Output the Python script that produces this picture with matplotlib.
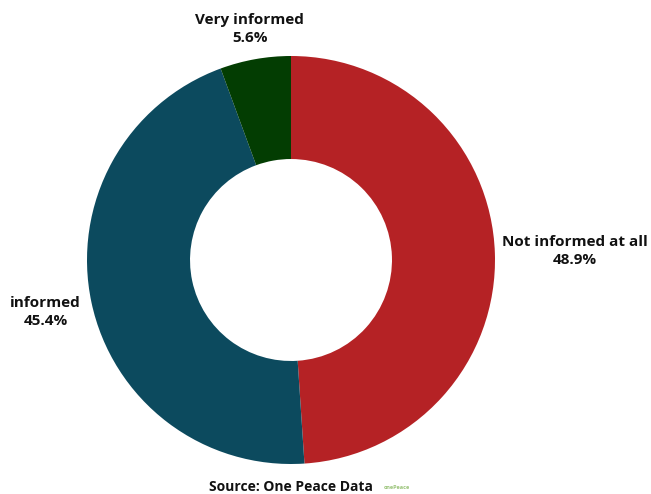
import matplotlib.pyplot as plt
import numpy as np

labels = ["Not informed at all", "informed", "Very informed"]
shares = [48.9, 45.4, 5.6]
colors = ["#B52225", "#0C4A5E", "#033D02"]
# radial distance of each label from the centre, in radii
label_dist = [1.39, 1.23, 1.15]

plt.rcParams["font.family"] = ["Open Sans", "DejaVu Sans"]

W, H = 651, 494
fig = plt.figure(figsize=(W / 100, H / 100), dpi=100)
cx, cy, R = 291, H - 260, 204
span = 1.6
ax = fig.add_axes([(cx - span * R) / W, (cy - span * R) / H,
                   2 * span * R / W, 2 * span * R / H])

wedges, _ = ax.pie(shares, colors=colors, startangle=90, counterclock=False,
                   radius=1.0, wedgeprops=dict(width=0.505, linewidth=0))
ax.set_xlim(-span, span)
ax.set_ylim(-span, span)
ax.axis("off")

for w, lab, val, d in zip(wedges, labels, shares, label_dist):
    ang = np.deg2rad((w.theta1 + w.theta2) / 2)
    x, y = d * np.cos(ang), d * np.sin(ang)
    ax.text(x, y, f"{lab}\n{val}%", ha="center", va="center",
            fontsize=11, fontweight="bold", color="#111111", linespacing=1.35)

fig.text(cx / W, 1 - 487 / H, "Source: One Peace Data", ha="center", va="center",
         fontsize=10, fontweight="bold", color="#111111")
fig.text(397 / W, 1 - 487 / H, "onePeace", ha="center", va="center",
         fontsize=4, fontweight="bold", color="#9BC47A")

fig.savefig("out.png", dpi=100)
